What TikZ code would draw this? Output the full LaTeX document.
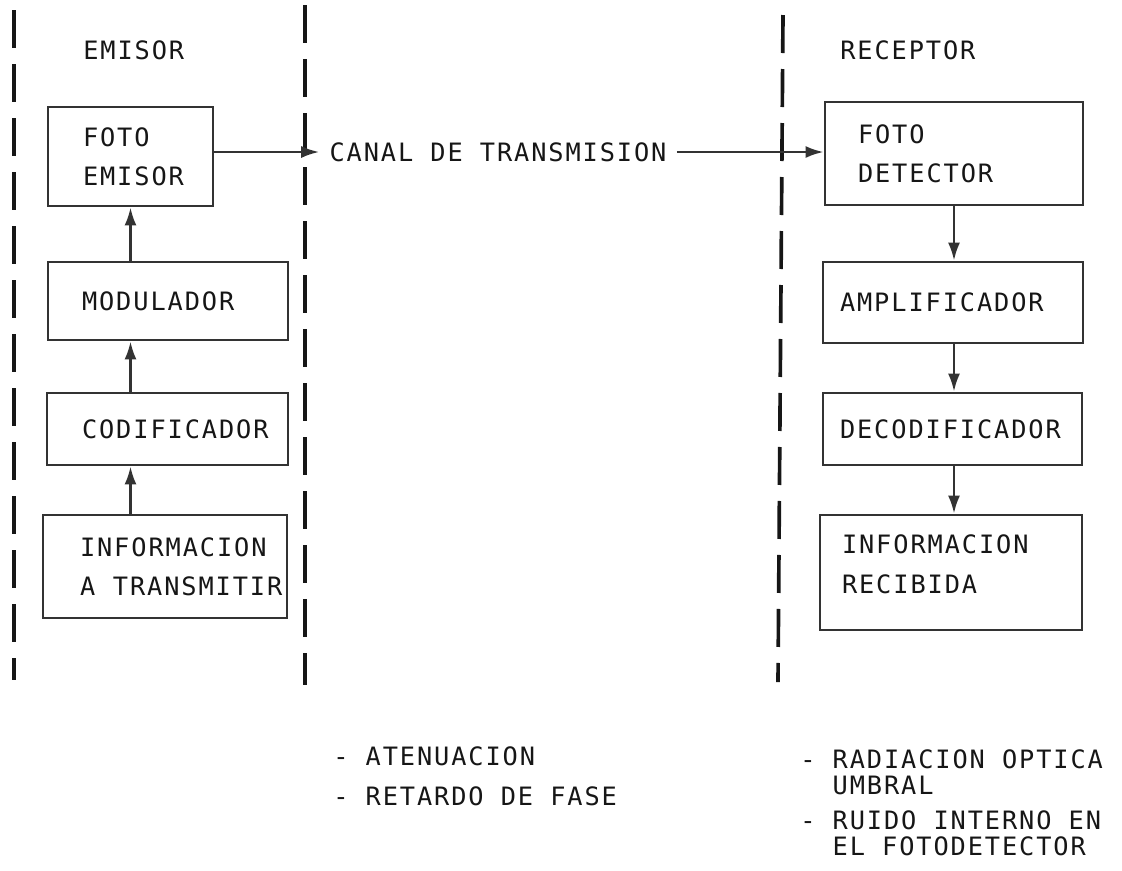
\documentclass[tikz,border=0pt]{standalone}
\usepackage{fontspec}
\usepackage{xcolor}
\usepackage{tikz}
\usetikzlibrary{positioning,arrows.meta,calc}
\newfontfamily\typewriter{DejaVu Sans Mono}[LetterSpace=7.5]
\definecolor{ink}{HTML}{161616}
\definecolor{pencil}{HTML}{333333}

\begin{document}
\begin{tikzpicture}[
  font=\typewriter\fontsize{18}{28}\selectfont,
  blk/.style={draw=pencil,line width=2pt,align=left,inner ysep=0pt,text=ink},
  divider/.style={draw=ink,line width=2.6pt,dash pattern=on 0.95cm off 0.4cm},
  arr/.style={-{Latex[length=4.5mm,width=3mm]},line width=1.8pt,draw=pencil},
  sidetitle/.style={anchor=west,inner sep=0pt,text=ink},
  note/.style={anchor=west,align=left,inner sep=0pt,text=ink,font=\typewriter\fontsize{18}{18.5}\selectfont}]
  \useasboundingbox (0,0) rectangle (28.05,-21.75);

  \draw[divider] (0.35,-0.25) -- (0.35,-17.0);
  \draw[divider] (7.625,-0.125) -- (7.625,-17.125);
  \draw[divider] (19.575,-0.375) -- (19.45,-17.05);

  \node[sidetitle] (emisor) at (2.075,-1.25) {EMISOR};
  \node[sidetitle] (receptor) at (21.0,-1.25) {RECEPTOR};

  \node[blk,text width=2.375cm,inner xsep=0.875cm,minimum height=2.475cm] (femi) at (3.2625,-3.9125) {FOTO\\EMISOR};
  \node[blk,text width=4.3cm,inner xsep=0.85cm,minimum height=1.95cm] (mod) at (4.2,-7.525) {MODULADOR};
  \node[blk,text width=4.275cm,inner xsep=0.875cm,minimum height=1.8cm] (cod) at (4.1875,-10.725) {CODIFICADOR};
  \node[blk,text width=4.25cm,inner xsep=0.925cm,minimum height=2.575cm] (infot) at (4.125,-14.1625) {INFORMACION\\\makebox[4.25cm][l]{A\hspace{0.7em}TRANSMITIR}};

  \node[inner xsep=0.25cm,inner ysep=0pt,text=ink] (canal) at (12.45,-3.8) {CANAL DE TRANSMISION};

  \node[blk,text width=4.8cm,inner xsep=0.825cm,minimum height=2.575cm] (fdet) at (23.85,-3.8375) {FOTO\\DETECTOR};
  \node[blk,text width=5.65cm,inner xsep=0.425cm,minimum height=2.025cm] (amp) at (23.825,-7.5625) {AMPLIFICADOR};
  \node[blk,text width=5.625cm,inner xsep=0.425cm,minimum height=1.8cm] (dec) at (23.8125,-10.725) {DECODIFICADOR};
  \node[blk,text width=5.45cm,inner xsep=0.55cm,minimum height=2.875cm,text depth=1.4cm] (inforec) at (23.775,-14.3125) {INFORMACION\\RECIBIDA};

  \node[note] (aten) at (8.325,-18.9) {- ATENUACION};
  \node[note] (fase) at (8.325,-19.9) {- RETARDO DE FASE};
  \node[note] (umbral) at (20.0,-19.3) {- RADIACION OPTICA\\\phantom{- }UMBRAL};
  \node[note] (ruido) at (20.0,-20.84) {- RUIDO INTERNO EN\\\phantom{- }EL FOTODETECTOR};

  \draw[arr] (femi.east |- canal.west) -- (canal.west);
  \draw[arr] (canal.east) -- (canal.east -| fdet.west);
  \draw[arr] (femi.south |- mod.north) -- (femi.south);
  \draw[arr] (femi.south |- cod.north) -- (femi.south |- mod.south);
  \draw[arr] (femi.south |- infot.north) -- (femi.south |- cod.south);
  \draw[arr] (fdet.south) -- (fdet.south |- amp.north);
  \draw[arr] (fdet.south |- amp.south) -- (fdet.south |- dec.north);
  \draw[arr] (fdet.south |- dec.south) -- (fdet.south |- inforec.north);
\end{tikzpicture}
\end{document}
